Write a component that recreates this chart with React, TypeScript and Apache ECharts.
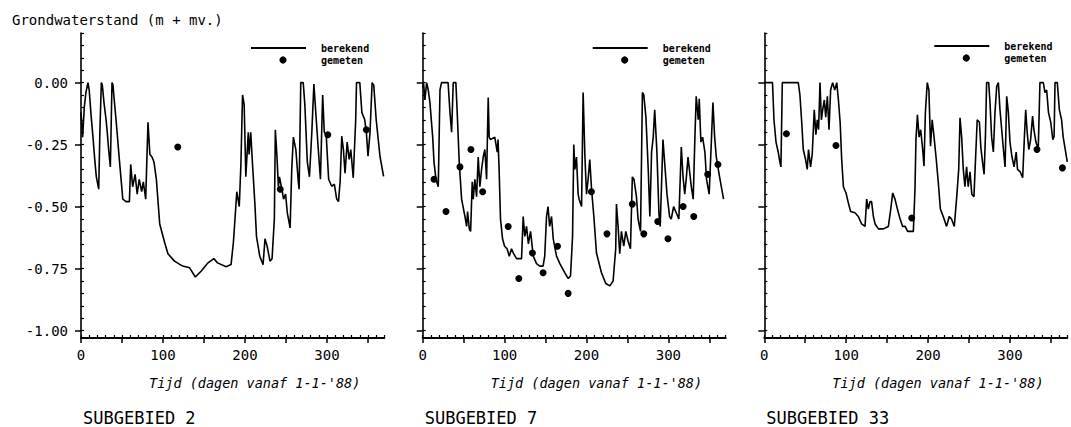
import React, { useEffect, useRef } from "react";
import * as echarts from "echarts";

const FONT = "DejaVu Sans Mono";
const DAY_MAX = 370;
const Y_MIN = -1.03;
const Y_MAX = 0.2;

const chartTitle = "Grondwaterstand (m + mv.)";
const xAxisTitle = "Tijd (dagen vanaf 1-1-'88)";
const panelNames = ["SUBGEBIED 2", "SUBGEBIED 7", "SUBGEBIED 33"];
const legendNames = ["berekend", "gemeten"];

const yTickLabels = [0, -0.25, -0.5, -0.75, -1.0];
const yMinorTicks = [0.2, 0.15, 0.1, 0.05, 0, -0.05, -0.1, -0.15, -0.2, -0.25, -0.3, -0.35, -0.4, -0.45, -0.5, -0.55, -0.6, -0.65, -0.7, -0.75, -0.8, -0.85, -0.9, -0.95, -1.0];
const xTickLabels = [0, 100, 200, 300];
const xMidTicks = [0, 50, 100, 150, 200, 250, 300, 350];
const xMinorTicks = [0, 10, 20, 30, 40, 50, 60, 70, 80, 90, 100, 110, 120, 130, 140, 150, 160, 170, 180, 190, 200, 210, 220, 230, 240, 250, 260, 270, 280, 290, 300, 310, 320, 330, 340, 350, 360, 370];

// Subgebied 2
const berekend2: [number, number][] = [
  [0, -0.12], [2, -0.22], [4, -0.1], [6, -0.04], [8.5, 0.0], [10, -0.03], [12, -0.12], [14.6, -0.22], [17, -0.32], [18.7, -0.38], [21.6, -0.43], [23, -0.2], [24.8, 0.0], [26, -0.01], [28, -0.08], [30.6, -0.15], [32, -0.2], [33.7, -0.27], [35.8, -0.34], [37.8, 0.0], [39, -0.01], [40, -0.05], [43, -0.16], [47, -0.32], [51, -0.47], [55, -0.48], [59, -0.48], [60.6, -0.33], [63, -0.42], [66, -0.37], [68.5, -0.45], [71, -0.39], [74, -0.44], [76, -0.4], [78.9, -0.47], [81.7, -0.16], [84, -0.29], [86.6, -0.3], [89, -0.32], [91.9, -0.39], [96, -0.57], [102, -0.645], [106, -0.69], [114, -0.72], [124, -0.74], [132.5, -0.747], [139.4, -0.784], [146.7, -0.76], [154.9, -0.727], [162, -0.71], [166.5, -0.727], [177, -0.743], [183, -0.734], [185.8, -0.646], [187.8, -0.55], [190, -0.44], [193, -0.5], [195, -0.33], [197, -0.05], [199, -0.09], [201, -0.38], [204, -0.2], [205, -0.29], [207, -0.2], [209, -0.32], [212, -0.485], [214, -0.62], [218, -0.7], [222, -0.734], [224.4, -0.63], [227, -0.66], [230.5, -0.72], [233, -0.71], [235.8, -0.55], [237, -0.19], [239, -0.3], [240.7, -0.42], [242, -0.38], [245, -0.43], [247, -0.47], [249.5, -0.45], [251.6, -0.525], [255, -0.586], [257, -0.35], [259, -0.22], [262, -0.27], [265, -0.4], [266, -0.43], [268, 0.0], [271, 0.0], [273, -0.09], [276, -0.32], [278.6, -0.38], [281.5, -0.2], [284, -0.006], [286.6, -0.135], [289.4, -0.27], [292, -0.39], [294.7, -0.05], [296.7, -0.2], [299, -0.21], [302, -0.39], [305.7, -0.418], [309, -0.41], [311.8, -0.47], [314, -0.48], [316, -0.4], [318, -0.216], [320, -0.27], [322, -0.365], [324.6, -0.24], [327, -0.31], [329, -0.27], [332, -0.384], [335, -0.15], [336, 0.0], [340, 0.0], [342.5, -0.12], [346, -0.15], [348, -0.2], [350, -0.297], [352.5, -0.2], [355, 0.0], [357, -0.01], [360, -0.15], [364.6, -0.297], [369, -0.378],
];
const gemeten2: [number, number][] = [[118, -0.26], [243, -0.43], [301, -0.21], [348, -0.19]];

// Subgebied 7
const berekend7: [number, number][] = [
  [0, -0.02], [1, 0.0], [2.7, -0.07], [4.8, 0.0], [6.8, -0.03], [8.8, -0.08], [12.2, -0.22], [13.8, -0.32], [16.2, -0.39], [19, -0.42], [21.1, -0.03], [23, 0.0], [31, 0.0], [33.3, -0.12], [35.3, -0.2], [37.3, 0.0], [40.5, 0.0], [42, -0.11], [44.6, -0.32], [47.5, -0.47], [51.6, -0.54], [53.6, -0.58], [54.8, -0.52], [56.9, -0.59], [58.5, -0.6], [60.5, -0.4], [61.7, -0.47], [63.7, -0.39], [65.8, -0.46], [67.8, -0.3], [69.8, -0.42], [71.9, -0.35], [73.9, -0.3], [75.9, -0.27], [78, -0.39], [80, -0.06], [81.2, -0.22], [82.8, -0.23], [88, -0.22], [91, -0.28], [92, -0.23], [93.3, -0.35], [95, -0.55], [97.5, -0.63], [100, -0.66], [103, -0.67], [105.7, -0.7], [108.4, -0.67], [111, -0.69], [114.6, -0.71], [120.7, -0.71], [122.7, -0.54], [124.7, -0.62], [126.8, -0.58], [129, -0.65], [131.7, -0.6], [135, -0.7], [139, -0.73], [143, -0.74], [147, -0.74], [149, -0.7], [151.2, -0.54], [153, -0.5], [155, -0.58], [157.3, -0.54], [159.4, -0.63], [163.4, -0.7], [167.5, -0.73], [173.6, -0.767], [177.6, -0.79], [180.5, -0.78], [183, -0.62], [184.5, -0.25], [185.8, -0.35], [187.8, -0.3], [189.8, -0.45], [191, -0.47], [194, -0.5], [195.9, -0.04], [198, -0.29], [200, -0.45], [202, -0.39], [204, -0.31], [206.2, -0.43], [209, -0.54], [212.2, -0.687], [218.3, -0.767], [223.6, -0.81], [228.5, -0.82], [232.5, -0.8], [235.7, -0.67], [236.6, -0.49], [238.6, -0.58], [240.6, -0.69], [242.7, -0.6], [245.5, -0.66], [248, -0.6], [250.8, -0.64], [253.7, -0.67], [256, -0.38], [258, -0.39], [261, -0.46], [263, -0.55], [266, -0.6], [268.3, -0.04], [270, -0.05], [272.6, -0.14], [275.4, -0.35], [277.4, -0.54], [279.5, -0.28], [281.5, -0.22], [283.3, -0.11], [286, -0.28], [288.5, -0.53], [290, -0.58], [293.4, -0.23], [295.4, -0.32], [298.3, -0.45], [301.5, -0.54], [303.5, -0.55], [306.4, -0.5], [309.6, -0.525], [312.8, -0.55], [315.8, -0.26], [317.9, -0.38], [320, -0.45], [322, -0.38], [324, -0.3], [326, -0.36], [328, -0.42], [330.3, -0.47], [332.4, -0.22], [334, -0.055], [336.5, -0.15], [337.7, -0.065], [339.7, -0.24], [341.8, -0.22], [344.6, -0.28], [346.6, -0.39], [349.8, -0.45], [352.7, -0.22], [354.4, -0.08], [356.5, -0.22], [358.5, -0.3], [362.5, -0.38], [367.4, -0.47],
];
const gemeten7: [number, number][] = [
  [13.8, -0.39], [28.4, -0.52], [45.5, -0.34], [58.9, -0.27], [73.2, -0.44], [104.4, -0.58], [117.4, -0.79], [134, -0.687], [147, -0.767], [164.6, -0.66], [177.6, -0.85], [206, -0.44], [225, -0.61], [256, -0.49], [270, -0.61], [287, -0.56], [299.5, -0.63], [318, -0.5], [331, -0.54], [348, -0.37], [360.5, -0.33],
];

// Subgebied 33
const berekend33: [number, number][] = [
  [0, 0.0], [10, 0.0], [11.8, -0.15], [14.3, -0.24], [17, -0.28], [19, -0.32], [20.3, -0.34], [22, 0.0], [41.5, 0.0], [43.5, -0.05], [45.5, -0.15], [47.6, -0.27], [50.4, -0.31], [52.4, -0.35], [54, -0.27], [56.5, -0.34], [58.5, -0.29], [61, -0.11], [63, -0.21], [64.7, -0.15], [66.3, -0.19], [68, 0.0], [69.7, -0.15], [71.3, -0.11], [73.3, -0.07], [75, -0.14], [77, -0.055], [79, -0.19], [81, -0.03], [83.5, 0.0], [86, -0.03], [88.5, 0.0], [90.5, -0.07], [92.6, -0.16], [94.5, -0.31], [96.6, -0.42], [99.8, -0.445], [102.6, -0.485], [105.4, -0.52], [110.7, -0.525], [114.8, -0.54], [118.8, -0.57], [123, -0.58], [125, -0.47], [127, -0.51], [129.1, -0.48], [131, -0.48], [133.2, -0.54], [135.3, -0.57], [139.3, -0.59], [145.4, -0.59], [151.5, -0.58], [154.4, -0.51], [156.8, -0.445], [159.6, -0.47], [162.5, -0.51], [165.8, -0.55], [169, -0.58], [172, -0.58], [175, -0.6], [180, -0.6], [182, -0.6], [184, -0.43], [185.2, -0.23], [187, -0.13], [189, -0.22], [191, -0.19], [193.4, -0.27], [195, -0.337], [196.7, -0.12], [199, 0.0], [201, -0.03], [203, -0.257], [205, -0.15], [207.3, -0.22], [209.7, -0.3], [212.4, -0.4], [215, -0.51], [218.5, -0.54], [222.6, -0.58], [225.8, -0.54], [228.6, -0.55], [232, -0.58], [235, -0.46], [237.4, -0.35], [239, -0.142], [241, -0.22], [243, -0.35], [245, -0.42], [247, -0.34], [249, -0.42], [251.2, -0.36], [253.4, -0.45], [256, -0.46], [258.1, -0.297], [260, -0.15], [262.7, -0.16], [264.4, -0.26], [266.8, -0.33], [268.4, -0.37], [270, -0.22], [271.5, 0.0], [274, 0.0], [275.6, -0.08], [277.6, -0.22], [279.7, -0.28], [281.7, -0.12], [283.8, -0.015], [285.8, 0.0], [287.8, -0.11], [289.9, -0.19], [292, -0.27], [294, -0.34], [296, -0.055], [298, -0.12], [300, -0.24], [302.3, -0.297], [305, -0.34], [307.6, -0.28], [309.2, -0.35], [312.5, -0.36], [315.5, -0.384], [317.6, -0.22], [319.2, -0.11], [321, -0.2], [323, -0.27], [325.2, -0.23], [327.6, -0.135], [329.2, -0.19], [331.7, -0.24], [334.5, -0.27], [336.6, 0.0], [340.7, 0.0], [342.7, -0.04], [344.8, -0.03], [347, -0.12], [349.8, -0.16], [352.3, -0.23], [353.9, -0.216], [355, 0.0], [357.8, 0.0], [360.3, -0.11], [363, -0.15], [365, -0.22], [368, -0.28], [370, -0.32],
];
const gemeten33: [number, number][] = [[27, -0.206], [87.5, -0.254], [180, -0.546], [333, -0.27], [364, -0.344]];

const berekendAll = [berekend2, berekend7, berekend33];
const gemetenAll = [gemeten2, gemeten7, gemeten33];

function buildOption() {
  const lefts = [81, 422.7, 764.3];
  const widths = [303.4, 303, 303];
  const top = 33;
  const height = 305;
  const grid: any[] = [];
  const xAxis: any[] = [];
  const yAxis: any[] = [];
  const series: any[] = [];
  const graphic: any[] = [];

  graphic.push({
    type: "text",
    x: 12,
    y: 20,
    style: { text: chartTitle, font: `14px "${FONT}"`, fill: "#000", textVerticalAlign: "middle", verticalAlign: "middle" },
  });

  lefts.forEach((left, g) => {
    grid.push({ left, top, width: widths[g], height });
    xAxis.push({
      type: "value", gridIndex: g, min: 0, max: DAY_MAX, position: "bottom",
      axisLine: { show: true, onZero: false, lineStyle: { color: "#000", width: 2 } },
      axisTick: { show: true, customValues: xMidTicks, length: 5, lineStyle: { color: "#000", width: 1.5 } },
      axisLabel: { show: true, customValues: xTickLabels, margin: 10, color: "#000", fontFamily: FONT, fontSize: 14 },
      splitLine: { show: false },
    });
    xAxis.push({
      type: "value", gridIndex: g, min: 0, max: DAY_MAX, position: "bottom",
      axisLine: { show: false, onZero: false },
      axisTick: { show: true, inside: true, customValues: xMinorTicks, length: 3, lineStyle: { color: "#000", width: 1.2 } },
      axisLabel: { show: false },
      splitLine: { show: false },
    });
    yAxis.push({
      type: "value", gridIndex: g, min: Y_MIN, max: Y_MAX, position: "left", offset: 0,
      axisLine: { show: true, onZero: false, lineStyle: { color: "#000", width: 1.6 } },
      axisTick: { show: true, customValues: yTickLabels, length: 6, lineStyle: { color: "#000", width: 1.5 } },
      axisLabel: {
        show: g === 0, customValues: yTickLabels, margin: 13, color: "#000", fontFamily: FONT, fontSize: 14,
        formatter: (v: number) => v.toFixed(2),
      },
      splitLine: { show: false },
    });
    yAxis.push({
      type: "value", gridIndex: g, min: Y_MIN, max: Y_MAX, position: "left", offset: 0,
      axisLine: { show: false, onZero: false },
      axisTick: { show: true, inside: true, customValues: yMinorTicks, length: 3, lineStyle: { color: "#000", width: 1.2 } },
      axisLabel: { show: false },
      splitLine: { show: false },
    });

    series.push({
      type: "line", name: legendNames[0], xAxisIndex: 2 * g, yAxisIndex: 2 * g,
      data: berekendAll[g], showSymbol: false, symbol: "none",
      lineStyle: { color: "#000", width: 1.6 }, silent: true,
    });
    series.push({
      type: "scatter", name: legendNames[1], xAxisIndex: 2 * g, yAxisIndex: 2 * g,
      data: gemetenAll[g], symbol: "circle", symbolSize: 7,
      itemStyle: { color: "#000", opacity: 1 }, silent: true,
    });

    graphic.push({
      type: "text", x: left + 68, y: 383,
      style: { text: xAxisTitle, font: `italic 13.5px "${FONT}"`, fill: "#000", textVerticalAlign: "middle", verticalAlign: "middle" },
    });
    graphic.push({
      type: "text", x: left + 2, y: 418,
      style: { text: panelNames[g], font: `17px "${FONT}"`, fill: "#000", textVerticalAlign: "middle", verticalAlign: "middle" },
    });

    const ly = g === 2 ? 46 : 48;
    graphic.push({ type: "line", shape: { x1: left + 170, y1: ly, x2: left + 225, y2: ly }, style: { stroke: "#000", lineWidth: 1.8 } });
    graphic.push({ type: "circle", shape: { cx: left + 202, cy: ly + 12, r: 3.6 }, style: { fill: "#000" } });
    graphic.push({
      type: "text", x: left + 240, y: ly,
      style: { text: legendNames[0], font: `bold 10px "${FONT}"`, fill: "#000", textVerticalAlign: "middle", verticalAlign: "middle" },
    });
    graphic.push({
      type: "text", x: left + 240, y: ly + 12,
      style: { text: legendNames[1], font: `bold 10px "${FONT}"`, fill: "#000", textVerticalAlign: "middle", verticalAlign: "middle" },
    });
  });

  return {
    animation: false,
    backgroundColor: "#fff",
    grid,
    xAxis,
    yAxis,
    series,
    graphic,
  };
}

export default function App() {
  const ref = useRef<HTMLDivElement>(null);
  useEffect(() => {
    if (!ref.current) return;
    const chart = echarts.init(ref.current, undefined, { renderer: "svg" });
    chart.setOption(buildOption() as any);
    return () => chart.dispose();
  }, []);
  return (
    <div
      ref={ref}
      style={{ position: "fixed", left: 0, top: 0, width: 1071, height: 427, background: "#fff" }}
    />
  );
}
